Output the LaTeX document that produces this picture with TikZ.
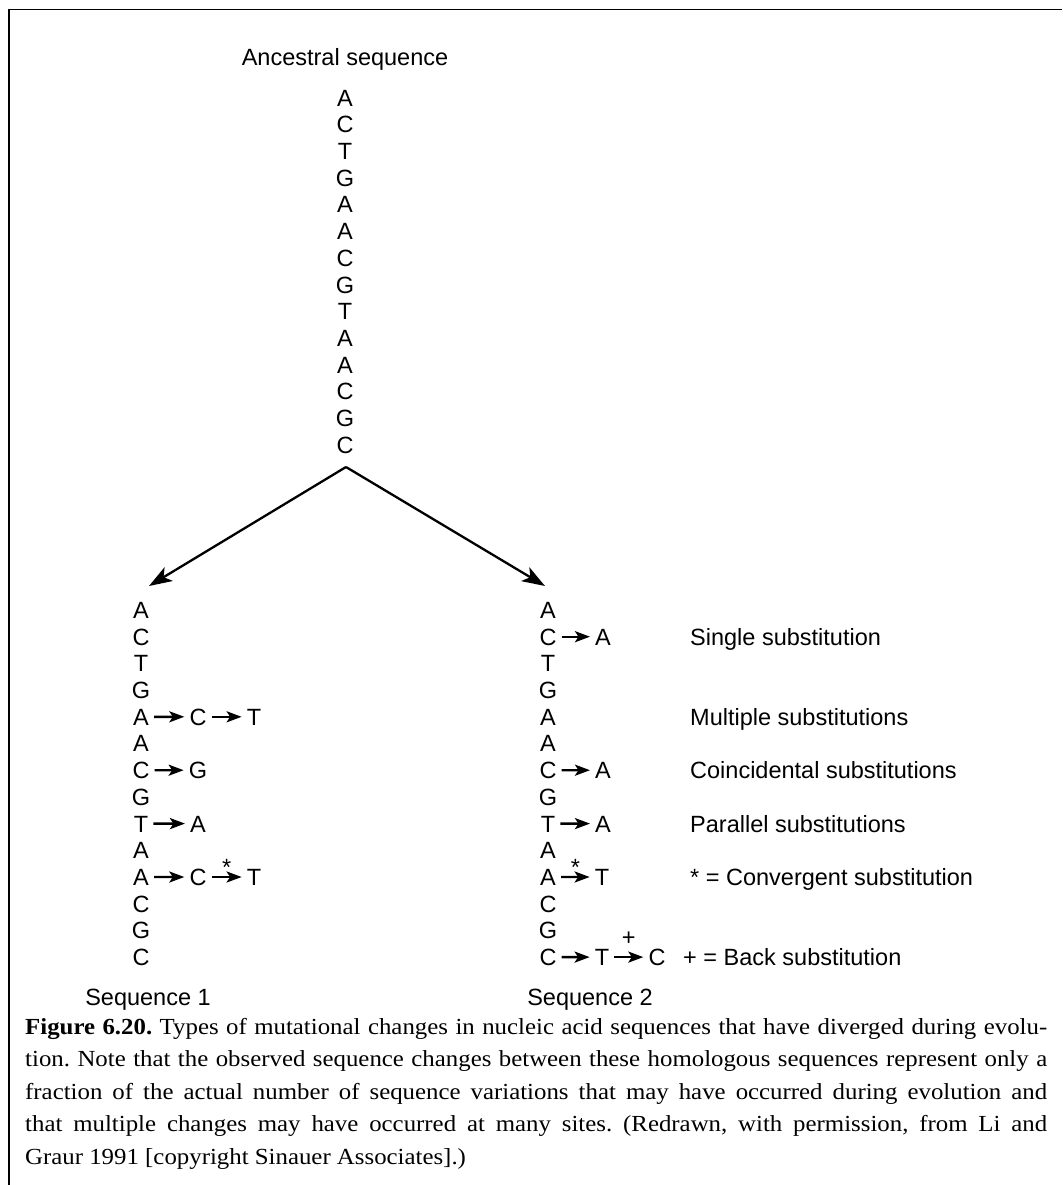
\documentclass[tikz,border=0pt]{standalone}
\usepackage{fontspec}
\setmainfont{Liberation Serif}
\setsansfont{Liberation Sans}
\newfontfamily\capfont[FakeStretch=1.08]{Liberation Serif}
\usetikzlibrary{arrows.meta}

\tikzset{
  seqtext/.style={font=\sffamily\fontsize{23.5}{28}\selectfont, inner sep=0pt, text height=16.8pt, text depth=0pt},
  nuc/.style={seqtext, inner xsep=5pt},
  tag/.style={font=\sffamily\fontsize{23.5}{28}\selectfont, inner sep=0pt, anchor=base},
  sub/.style={line width=2.4pt, -{Stealth[length=15pt, width=11pt, inset=3.5pt]}},
  diverge/.style={line width=2.3pt, -{Stealth[length=23pt, width=16pt, inset=6pt]}},
  capline/.style={font=\capfont\fontsize{23}{27}\selectfont, inner sep=0pt, anchor=base west}
}

\begin{document}
\frenchspacing
\begin{tikzpicture}[x=1pt, y=-1pt]
    \useasboundingbox (0,0) rectangle (1062,1185);
    \draw[line width=1.3pt] (9,1185) -- (9,9.5) -- (1062,9.5);

    \node[seqtext] (anctitle) at (345, 57.5) {Ancestral sequence};

    % the three columns
    \foreach \b [count=\i from 0] in {A,C,T,G,A,A,C,G,T,A,A,C,G,C} {
        \node[nuc] (anc\i) at (345, 97.7+26.7*\i) {\b};
        \node[nuc] (sa\i) at (141, 610+26.7*\i) {\b};
        \node[nuc] (sb\i) at (548, 610+26.7*\i) {\b};
    }

    \coordinate (fork) at (346, 467);
    \coordinate (tipa) at (149, 586);
    \coordinate (tipb) at (545, 586);
    \draw[diverge] (fork) -- (tipa);
    \draw[diverge] (fork) -- (tipb);

    % sequence 1
    \node[nuc] (sa4c) at (198, 716.8) {C};
    \node[nuc] (sa4t) at (254, 716.8) {T};
    \draw[sub] (sa4) -- (sa4c);
    \draw[sub] (sa4c) -- (sa4t);
    \node[nuc] (sa6g) at (198, 770.2) {G};
    \draw[sub] (sa6) -- (sa6g);
    \node[nuc] (sa8a) at (198, 823.6) {A};
    \draw[sub] (sa8) -- (sa8a);
    \node[nuc] (sa10c) at (198, 877) {C};
    \node[nuc] (sa10t) at (254, 877) {T};
    \draw[sub] (sa10) -- (sa10c);
    \draw[sub] (sa10c) -- node[tag, yshift=1.4pt] (sastar) {*} (sa10t);

    % sequence 2
    \node[nuc] (sb1a) at (603, 636.7) {A};
    \draw[sub] (sb1) -- (sb1a);
    \node[nuc] (sb6a) at (603, 770.2) {A};
    \draw[sub] (sb6) -- (sb6a);
    \node[nuc] (sb8a) at (603, 823.6) {A};
    \draw[sub] (sb8) -- (sb8a);
    \node[nuc] (sb10t) at (602, 877) {T};
    \draw[sub] (sb10) -- node[tag, yshift=1.4pt] (sbstar) {*} (sb10t);
    \node[nuc] (sb13t) at (602, 957.1) {T};
    \node[nuc] (sb13c) at (657, 957.1) {C};
    \draw[sub] (sb13) -- (sb13t);
    \draw[sub] (sb13t) -- node[tag, yshift=11.7pt] (sbplus) {+} (sb13c);

    % kinds of change
    \node[seqtext, anchor=west] (single) at (690, 636.7) {Single substitution};
    \node[seqtext, anchor=west] (multiple) at (690, 716.8) {Multiple substitutions};
    \node[seqtext, anchor=west] (coincid) at (690, 770.2) {Coincidental substitutions};
    \node[seqtext, anchor=west] (parallel) at (690, 823.6) {Parallel substitutions};
    \node[seqtext, anchor=west] (converg) at (690, 877) {* = Convergent substitution};
    \node[seqtext, anchor=west] (back) at (683, 957.1) {+ = Back substitution};

    \node[seqtext] (seqa) at (148, 997) {Sequence 1};
    \node[seqtext] (seqb) at (590, 997) {Sequence 2};

    % caption
    \node[capline] (cap1) at (25, 1034) {\makebox[1022pt][s]{\textbf{Figure 6.20.} Types of mutational changes in nucleic acid sequences that have diverged during evolu-}};
    \node[capline] (cap2) at (25, 1066.6) {\makebox[1022pt][s]{tion. Note that the observed sequence changes between these homologous sequences represent only a}};
    \node[capline] (cap3) at (25, 1099.2) {\makebox[1022pt][s]{fraction of the actual number of sequence variations that may have occurred during evolution and}};
    \node[capline] (cap4) at (25, 1131.8) {\makebox[1022pt][s]{that multiple changes may have occurred at many sites. (Redrawn, with permission, from Li and}};
    \node[capline] (cap5) at (25, 1164.4) {Graur 1991 [copyright Sinauer Associates].)};
\end{tikzpicture}
\end{document}
